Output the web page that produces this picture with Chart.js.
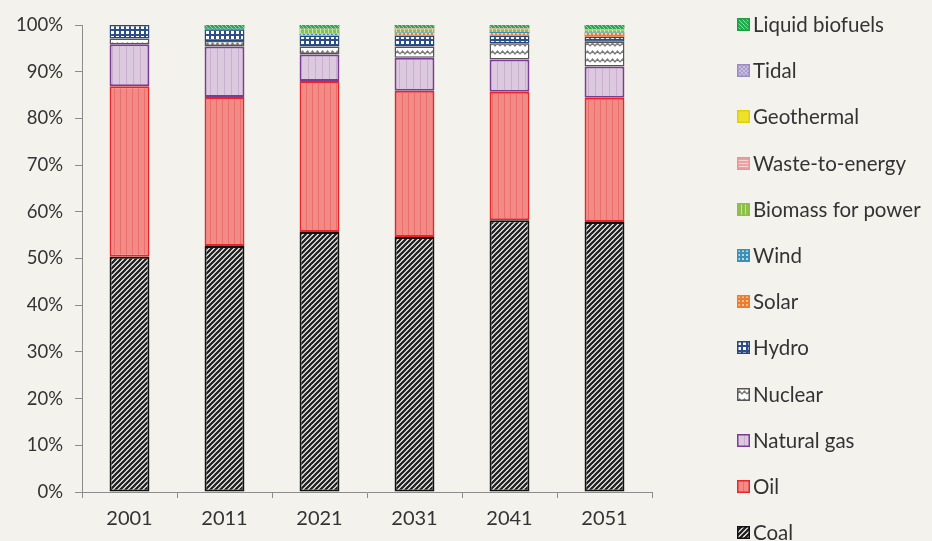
<!DOCTYPE html>
<html>
<head>
<meta charset="utf-8">
<script src="https://cdn.jsdelivr.net/npm/chart.js@4/dist/chart.umd.min.js"></script>
<style>
  html, body { margin:0; padding:0; background:#f4f2ec; }
  #wrap { position:relative; width:932px; height:541px; overflow:hidden; }
  #c { position:absolute; left:0; top:0; }
  #legend { position:absolute; left:737px; top:0; font-family:Lato, "Liberation Sans", sans-serif; font-size:20.5px; color:#333; }
  .item { position:absolute; left:0; white-space:nowrap; height:20px; line-height:20px; }
  .item canvas { position:absolute; left:0; top:4px; }
  .item span { position:absolute; left:16px; top:0; }
</style>
</head>
<body>
<div id="wrap">
  <canvas id="c" width="932" height="541"></canvas>
  <div id="legend"></div>
</div>
<script>
const years = ['2001','2011','2021','2031','2041','2051'];
const coal       = [50.4, 52.7, 55.7, 54.6, 58.2, 57.8];
const oil        = [36.5, 31.9, 32.3, 31.3, 27.5, 26.6];
const naturalGas = [9.0, 10.8, 5.7, 7.1, 6.9, 6.7];
const nuclear    = [1.2, 1.2, 1.7, 2.4, 3.5, 5.3];
const hydro      = [2.9, 2.5, 2.3, 2.3, 1.6, 1.1];
const solar      = [0, 0, 0.1, 0.4, 0.5, 0.6];
const wind       = [0, 0.1, 0.3, 0.3, 0.3, 0.3];
const biomass    = [0, 0, 1.0, 0.7, 0.6, 0.5];
const waste      = [0, 0, 0.1, 0.2, 0.2, 0.2];
const geothermal = [0, 0, 0, 0, 0, 0];
const tidal      = [0, 0, 0, 0, 0, 0];
const biofuels   = [0, 0.8, 0.8, 0.7, 0.7, 0.9];
const yTicks = [0,10,20,30,40,50,60,70,80,90,100];

function makePattern(kind) {
  const s = document.createElement('canvas');
  const g = s.getContext('2d');
  let w = 6, h = 6;
  switch (kind) {
    case 'coal': w = 5; h = 5; s.width = w; s.height = h;
      g.fillStyle = '#ffffff'; g.fillRect(0,0,w,h);
      g.strokeStyle = '#222'; g.lineWidth = 2.3;
      g.beginPath(); g.moveTo(-1, h+1); g.lineTo(w+1, -1);
      g.moveTo(-1-w, h+1); g.lineTo(1, -1);
      g.moveTo(w-1, h+1); g.lineTo(2*w+1, -1); g.stroke();
      break;
    case 'oil': w = 6; h = 6; s.width = w; s.height = h;
      g.fillStyle = '#f28a86'; g.fillRect(0,0,w,h);
      g.fillStyle = '#ea6e6c'; g.fillRect(0,0,1,h);
      break;
    case 'gas': w = 7; h = 6; s.width = w; s.height = h;
      g.fillStyle = '#dcc8df'; g.fillRect(0,0,w,h);
      g.fillStyle = '#c8afcd'; g.fillRect(0,0,1,h);
      break;
    case 'nuclear': w = 10; h = 8; s.width = w; s.height = h;
      g.fillStyle = '#ffffff'; g.fillRect(0,0,w,h);
      g.strokeStyle = '#7a7a7a'; g.lineWidth = 1.4;
      g.beginPath(); g.moveTo(0,6); g.lineTo(2.5,3); g.lineTo(5,6); g.lineTo(7.5,3); g.lineTo(10,6); g.stroke();
      break;
    case 'hydro': w = 5; h = 5; s.width = w; s.height = h;
      g.fillStyle = '#2d4f86'; g.fillRect(0,0,w,h);
      g.fillStyle = '#ffffff'; g.fillRect(1,1,3,3);
      break;
    case 'solar': w = 4; h = 4; s.width = w; s.height = h;
      g.fillStyle = '#ec7c30'; g.fillRect(0,0,w,h);
      g.fillStyle = '#f6c39a'; g.fillRect(1,1,2,2);
      break;
    case 'wind': w = 4; h = 4; s.width = w; s.height = h;
      g.fillStyle = '#3d8fb6'; g.fillRect(0,0,w,h);
      g.fillStyle = '#b6d9ea'; g.fillRect(1,1,2,2);
      break;
    case 'biomass': w = 4; h = 4; s.width = w; s.height = h;
      g.fillStyle = '#8cc04b'; g.fillRect(0,0,w,h);
      g.fillStyle = '#c8e2a0'; g.fillRect(0,0,1,h);
      break;
    case 'waste': w = 4; h = 3; s.width = w; s.height = h;
      g.fillStyle = '#eaa3a3'; g.fillRect(0,0,w,h);
      g.fillStyle = '#f6d2d2'; g.fillRect(0,0,w,1);
      break;
    case 'geothermal': w = 4; h = 4; s.width = w; s.height = h;
      g.fillStyle = '#ece22c'; g.fillRect(0,0,w,h);
      break;
    case 'tidal': w = 4; h = 4; s.width = w; s.height = h;
      g.fillStyle = '#a99ccc'; g.fillRect(0,0,w,h);
      g.fillStyle = '#c9c0e0'; g.fillRect(0,0,2,2); g.fillRect(2,2,2,2);
      break;
    case 'biofuels': w = 4; h = 4; s.width = w; s.height = h;
      g.fillStyle = '#23ab4e'; g.fillRect(0,0,w,h);
      g.strokeStyle = '#8fd7a4'; g.lineWidth = 1;
      g.beginPath(); g.moveTo(0,0); g.lineTo(w,h); g.stroke();
      break;
  }
  return g.createPattern(s, 'repeat');
}

const seriesDefs = [
  { label:'Coal', data:coal, kind:'coal', border:'#111111', bw:2 },
  { label:'Oil', data:oil, kind:'oil', border:'#e8252a', bw:2 },
  { label:'Natural gas', data:naturalGas, kind:'gas', border:'#7b3d93', bw:2 },
  { label:'Nuclear', data:nuclear, kind:'nuclear', border:'#555555', bw:1.5 },
  { label:'Hydro', data:hydro, kind:'hydro', border:'#26477c', bw:1.5 },
  { label:'Solar', data:solar, kind:'solar', border:'#ec7c30', bw:0 },
  { label:'Wind', data:wind, kind:'wind', border:'#3d8fb6', bw:0 },
  { label:'Biomass for power', data:biomass, kind:'biomass', border:'#8cc04b', bw:0 },
  { label:'Waste-to-energy', data:waste, kind:'waste', border:'#e59797', bw:0 },
  { label:'Geothermal', data:geothermal, kind:'geothermal', border:'#e0d000', bw:0 },
  { label:'Tidal', data:tidal, kind:'tidal', border:'#9a8cc0', bw:0 },
  { label:'Liquid biofuels', data:biofuels, kind:'biofuels', border:'#1d9e45', bw:0 }
];

const datasets = seriesDefs.map(d => ({
  label: d.label,
  data: d.data,
  backgroundColor: makePattern(d.kind),
  borderColor: d.border,
  borderWidth: d.bw,
  borderSkipped: false,
  categoryPercentage: 1.0,
  barPercentage: 0.42
}));

const tickFont = 'Lato, "Liberation Sans", sans-serif';

const chart = new Chart(document.getElementById('c'), {
  type: 'bar',
  data: { labels: years, datasets },
  options: {
    responsive: false,
    animation: false,
    devicePixelRatio: 1,
    layout: { padding: { left: 0, right: 280, top: 25, bottom: 0 } },
    plugins: { legend: { display: false }, tooltip: { enabled: false } },
    scales: {
      x: {
        stacked: true,
        offset: true,
        grid: { display: true, drawOnChartArea: false, drawTicks: true, tickLength: 6, color: '#8c8c8c', offset: true },
        border: { display: true, color: '#8c8c8c', width: 1 },
        ticks: { color: '#333', font: { family: tickFont, size: 20 }, padding: 9 },
        afterFit: s => { s.height = 49; }
      },
      y: {
        stacked: true,
        min: 0, max: 100,
        afterBuildTicks: s => { s.ticks = yTicks.map(v => ({ value: v })); },
        grid: { display: true, drawOnChartArea: false, drawTicks: true, tickLength: 7, color: '#8c8c8c' },
        border: { display: true, color: '#8c8c8c', width: 1 },
        ticks: { color: '#333', font: { family: tickFont, size: 18.5 }, padding: 12, callback: v => v + '%' },
        afterFit: s => { s.width = 82; }
      }
    }
  }
});

// HTML legend (reverse order, top = Liquid biofuels)
const legend = document.getElementById('legend');
const legendOrder = seriesDefs.slice().reverse();
legendOrder.forEach((d, i) => {
  const item = document.createElement('div');
  item.className = 'item';
  item.style.top = (14 + i * 46.2) + 'px';
  const sw = document.createElement('canvas');
  sw.width = 13; sw.height = 13;
  const g = sw.getContext('2d');
  g.fillStyle = makePattern(d.kind);
  g.fillRect(0,0,13,13);
  g.strokeStyle = d.border; g.lineWidth = 1.5;
  g.strokeRect(0.75,0.75,11.5,11.5);
  const t = document.createElement('span');
  t.textContent = d.label;
  item.appendChild(sw); item.appendChild(t);
  legend.appendChild(item);
});
</script>
</body>
</html>
